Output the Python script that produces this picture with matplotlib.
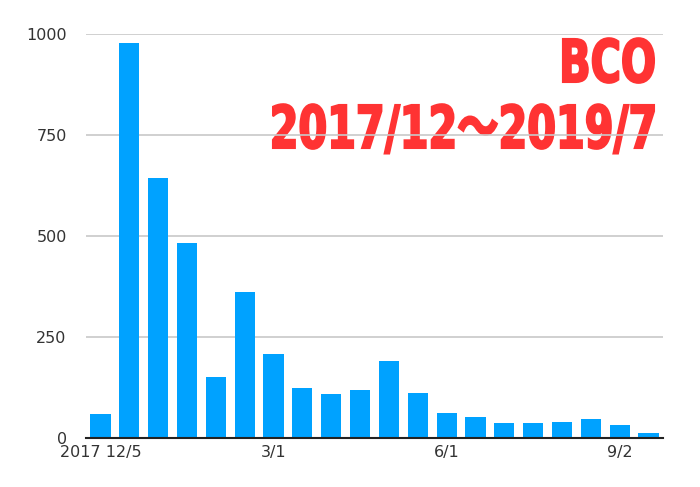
import matplotlib.pyplot as plt
import matplotlib.transforms as mtransforms
from matplotlib.font_manager import FontProperties
from matplotlib.patches import PathPatch
from matplotlib.textpath import TextPath
import numpy as np

# half-monthly counts
counts = [59, 979, 643, 483, 151, 361, 208, 124, 109, 119,
          191, 111, 63, 51, 36, 36, 40, 47, 32, 12]
tick_pos = [0, 6, 12, 18]
tick_labels = ["2017 12/5", "3/1", "6/1", "9/2"]
y_ticks = [0, 250, 500, 750, 1000]
title_lines = ["BCO", "2017/12～2019/7"]

fig = plt.figure(figsize=(7, 4.87), dpi=100)
ax = fig.add_axes([0.123, 0.1006, 0.824, 0.8294])
ax.patch.set_visible(False)

ind = np.arange(len(counts))
ax.bar(ind, counts, width=0.7, color='#00A2FF', zorder=2)

ax.set_xlim(-0.5, len(counts) - 0.5)
ax.set_ylim(0, 1000)
ax.set_yticks(y_ticks)
ax.set_yticklabels([str(v) for v in y_ticks], fontsize=11.5, color='#333333')
ax.set_xticks(tick_pos)
ax.set_xticklabels(tick_labels, fontsize=11.5, color='#333333')
ax.tick_params(axis='both', length=0)
ax.tick_params(axis='y', pad=14)
ax.tick_params(axis='x', pad=5)

ax.grid(axis='y', color='#c8c8c8', linewidth=1.2, zorder=3)
for s in ['top', 'right', 'left']:
    ax.spines[s].set_visible(False)
ax.spines['bottom'].set_color('#222222')
ax.spines['bottom'].set_linewidth(1.5)
ax.spines['bottom'].set_zorder(4)


# condensed red title, drawn under the grid
def squeezed_text(s, right, baseline, size_px, sx):
    fp = FontProperties(family=['DejaVu Sans', 'Noto Sans CJK JP'], weight='bold')
    tp = TextPath((0, 0), s, size=size_px, prop=fp)
    ext = tp.get_extents()
    tr = mtransforms.Affine2D().translate(-ext.x1, 0).scale(sx, 1).translate(right, baseline)
    patch = PathPatch(tr.transform_path(tp), facecolor='#FF3333', edgecolor='#FF3333',
                      linewidth=1.5, transform=mtransforms.IdentityTransform(), zorder=-1)
    fig.add_artist(patch)


squeezed_text(title_lines[0], 654, 487 - 82, 59, 0.70)
squeezed_text(title_lines[1], 654, 487 - 148, 59, 0.70)

fig.savefig("out.png", dpi=100)
